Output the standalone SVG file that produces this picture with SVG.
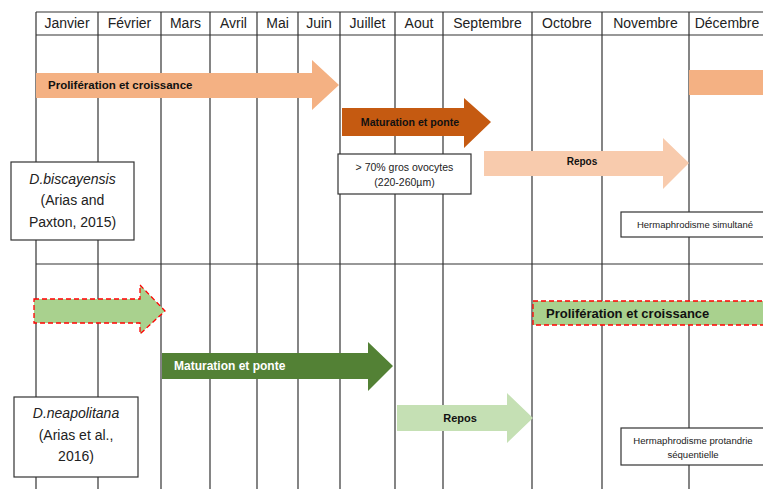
<svg xmlns="http://www.w3.org/2000/svg" width="763" height="489" viewBox="0 0 763 489">
<style>
.grid{stroke:#333;stroke-width:1.2;fill:none}
.hdr{font-family:"Liberation Sans",Arial,sans-serif;font-size:14px;fill:#222;text-anchor:middle}
.lbl{font-family:"Liberation Sans",Arial,sans-serif;font-weight:bold;fill:#111}
.box{fill:#fff;stroke:#333;stroke-width:1.2}
.small{font-family:"Liberation Sans",Arial,sans-serif;fill:#222;text-anchor:middle}
.sp{font-family:"Liberation Sans",Arial,sans-serif;font-size:14px;fill:#222;text-anchor:middle}
.dash{stroke:#f00;stroke-width:1.3;stroke-dasharray:5,3}
</style>
<rect width="763" height="489" fill="#fff"/>
<g id="grid" class="grid">
<line x1="36" y1="12" x2="770" y2="12"/>
<line x1="36" y1="35" x2="770" y2="35"/>
<line x1="36" y1="264" x2="770" y2="264"/>
<line x1="36" y1="12" x2="36" y2="489"/>
<line x1="98" y1="12" x2="98" y2="489"/>
<line x1="161" y1="12" x2="161" y2="489"/>
<line x1="210" y1="12" x2="210" y2="489"/>
<line x1="257" y1="12" x2="257" y2="489"/>
<line x1="298" y1="12" x2="298" y2="489"/>
<line x1="340" y1="12" x2="340" y2="489"/>
<line x1="395" y1="12" x2="395" y2="489"/>
<line x1="443" y1="12" x2="443" y2="489"/>
<line x1="532" y1="12" x2="532" y2="489"/>
<line x1="602" y1="12" x2="602" y2="489"/>
<line x1="689" y1="12" x2="689" y2="489"/>
</g>
<g id="header">
<text class="hdr" x="67" y="28">Janvier</text>
<text class="hdr" x="129.5" y="28">Février</text>
<text class="hdr" x="185.5" y="28">Mars</text>
<text class="hdr" x="233.5" y="28">Avril</text>
<text class="hdr" x="277.5" y="28">Mai</text>
<text class="hdr" x="319" y="28">Juin</text>
<text class="hdr" x="367.5" y="28">Juillet</text>
<text class="hdr" x="419" y="28">Aout</text>
<text class="hdr" x="487.5" y="28">Septembre</text>
<text class="hdr" x="567" y="28">Octobre</text>
<text class="hdr" x="645.5" y="28">Novembre</text>
<text class="hdr" x="727" y="28">Décembre</text>
</g>
<g id="arrow-prolif-1">
<polygon points="36,73 312,73 312,60 339,85 312,110 312,98 36,98" fill="#F4B183"/>
<text class="lbl" x="48" y="89" font-size="11.5">Prolifération et croissance</text>
</g>
<g id="arrow-prolif-dec">
<rect x="689" y="70" width="80" height="25" fill="#F4B183"/>
</g>
<g id="arrow-maturation-1">
<polygon points="342,108 464,108 464,98 491,122 464,148 464,136 342,136" fill="#C55A11"/>
<text class="lbl" x="410" y="126" font-size="10.6" text-anchor="middle">Maturation et ponte</text>
</g>
<g id="box-ovocytes">
<rect class="box" x="338" y="154" width="133" height="40"/>
<text class="small" x="404.5" y="171" font-size="10.5">&gt; 70% gros ovocytes</text>
<text class="small" x="404.5" y="186" font-size="10.5">(220-260µm)</text>
</g>
<g id="arrow-repos-1">
<polygon points="484,151 663,151 663,138 689,163 663,189 663,176 484,176" fill="#F8CBAD"/>
<text class="lbl" x="582" y="165" font-size="10" text-anchor="middle">Repos</text>
</g>
<g id="box-herm-sim">
<rect class="box" x="621" y="212" width="150" height="25"/>
<text class="small" x="695" y="228" font-size="9.5">Hermaphrodisme simultané</text>
</g>
<g id="box-biscayensis">
<rect class="box" x="11" y="162" width="123" height="78"/>
<text class="sp" x="72.5" y="184" font-style="italic">D.biscayensis</text>
<text class="sp" x="72.5" y="205">(Arias and</text>
<text class="sp" x="72.5" y="227">Paxton, 2015)</text>
</g>
<g id="arrow-prolif-2">
<polygon class="dash" points="34,299 140,299 140,285 165,311 140,334 140,323 34,323" fill="#A9D18E"/>
</g>
<g id="arrow-maturation-2">
<polygon points="162,353 368,353 368,342 393,366 368,391 368,379 162,379" fill="#538135"/>
<text class="lbl" x="174" y="370" font-size="12" style="fill:#fff">Maturation et ponte</text>
</g>
<g id="box-prolif-2">
<rect class="dash" x="533" y="301" width="240" height="24" fill="#A9D18E"/>
<text class="lbl" x="546" y="318" font-size="13">Prolifération et croissance</text>
</g>
<g id="arrow-repos-2">
<polygon points="397,405 507,405 507,393 533,418 507,443 507,431 397,431" fill="#C5E0B4"/>
<text class="lbl" x="460" y="422" font-size="11" text-anchor="middle">Repos</text>
</g>
<g id="box-herm-prot">
<rect class="box" x="621" y="428" width="150" height="37"/>
<text class="small" x="693" y="444" font-size="9.6">Hermaphrodisme protandrie</text>
<text class="small" x="693" y="458" font-size="9.6">séquentielle</text>
</g>
<g id="box-neapolitana">
<rect class="box" x="14" y="397" width="124" height="80"/>
<text class="sp" x="76" y="418" font-style="italic">D.neapolitana</text>
<text class="sp" x="76" y="440">(Arias et al.,</text>
<text class="sp" x="76" y="461">2016)</text>
</g>
</svg>
